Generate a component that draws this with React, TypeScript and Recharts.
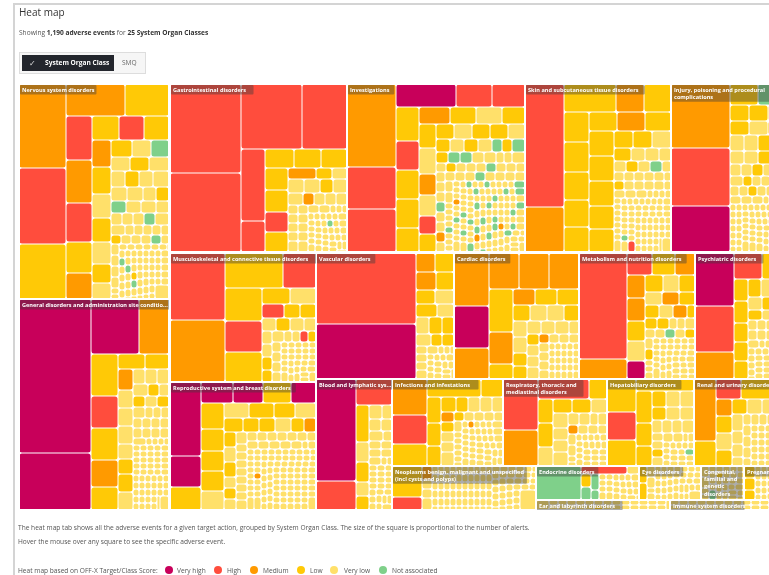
import React from 'react';
import { Treemap } from 'recharts';

// score letters: p very high, r high, o medium, y low, w very low, g not associated
const scoreColors: Record<string, string> = {
  p: '#c8005a',
  r: '#ff4d3d',
  o: '#ff9a00',
  y: '#ffc906',
  w: '#ffe06a',
  g: '#7fd08a',
};

const legendItems = [
  { label: 'Very high', score: 'p', dot: 169, text: 177 },
  { label: 'High', score: 'r', dot: 218, text: 227 },
  { label: 'Medium', score: 'o', dot: 254, text: 263 },
  { label: 'Low', score: 'y', dot: 301, text: 310 },
  { label: 'Very low', score: 'w', dot: 334, text: 344 },
  { label: 'Not associated', score: 'g', dot: 383, text: 392 },
];

// Cell sizes (area of each square, tiny square = 1).
// *Cuts = how many cells go in each strip, the rest of the cells fill what is left.
const nervousValues = [87,79,57,42,31,26,25,23,18,15,14,13,13,11,11,10,10,9,8,7,8,7,7,6,6,6,5,5,5,5,5,5,4,4,4,4,4,4,3,3,3,3,3,3,
  2,2,2,2,2,2,2,2,2,2,2,2,2,2,2,
  1,1,1,1,1,1,1,1,1,1,1,1,1,1,1,1,1,1,1,1,1,1,1,1,1,1,1,1,1,1,1,1,1,1,1,1,1,1,1,1,1,1,1,1,1,1,1,1,1,1,1,1,1,1,1,1,1,1,1,1,1,1];
const nervousScores = 'oryoyroryoyryoywywyw' + 'ywgwyw' + 'wywwww' + 'wygwww' + 'wwwgwww' + 'wwwwywwwgwwwwww' + 'wwwwwwwwwgwwwwwwwwwwwwwgwwwwwwwwwwwygwww';
const nervousCuts = [3, 2, 5, 3, 7];

const generalValues = [245,91,59,37,25,19,19,16,14,9,8,7,6,6,6,5,5,6,5,4,4,4,4,3,3,3,3,3,3,
  2,2,2,2,2,2,2,2,2,2,2,2,
  1,1,1,1,1,1,1,1,1,1,1,1,1,1,1,1,1,1,1,1,1,1,1,1,1,1,1,1,1,1,1,1,1,1,1,1,1,1,1,1,1,1,1,1,1,1,1,1,1,1,1,1,1,1,1,1,1];
const generalScores = 'pppo' + 'yryoy' + 'yy' + 'owwwwyyw' + 'wwwwywywyw';
const generalCuts = [2, 2, 5, 2, 8];

const gastroValues = [142,126,89,65,39,17,12,11,11,11,11,10,10,7,4,4,5,5,4,4,4,3,3,3,3,
  2,2,2,2,2,2,2,2,2,2,2,2,
  1,1,1,1,1,1,1,1,1,1,1,1,1,1,1,1,1,1,1,1,1,1,1,1,1,1,1,1,1,1,1,1,1,1,1,1,1,1];
const gastroScores = 'rrrrrr' + 'yyy' + 'yyry' + 'oyw' + 'wwywwowww' + 'wwwwwwwwwwww' + 'wwwwwwwwwwwwwwwwgwww';
const gastroCuts = [2, 2, 2, 3, 4, 3];

const investValues = [90,46,46,30,18,17,18,15,15,15,13,12,10,10,9,9,10,8,8,7,7,6,6,6,6,6,
  4,4,4,4,3,3,3,3,3,3,3,3,
  2,2,2,2,2,2,2,2,2,2,2,2,2,2,2,2,2,2,2,2,2,2,2,2,2,2,2,2,2,2,
  1,1,1,1,1,1,1,1,1,1,1,1,1,1,1,1,1,1,1,1,1,1,1,1,1,1,1,1,1,1,1,1,1,1,1,1,1,1,1,1,
  1,1,1,1,1,1,1,1,1,1,1,1,1,1,1,1,1,1,1,1,1,1,1,1,1,1,1,1,1,1,1,1,1,1,1,1,1,1,1,1,
  1,1,1,1,1,1,1,1,1,1,1,1,1,1,1,1,1,1,1,1,1,1,1,1,1,1,1,1,1,1,1,1,1,1,1,1,1,1,1,1,1,1,1];
const investScores = 'orrprr' + 'yryyy' + 'oywy' + 'ywowry' + 'ywyyw' + 'ywywgygyggww'
  + 'wwwwywwwgwwwwwwgwwowwwwgwwwwww'
  + 'wwwwgwwwgwwwowwgwwwwwgwwgwwwwgwwwwgwwgwwwgwwwwgwgwwwwgwwwgwwwgwwwwgwwgowwwgwwwwgwgwwwgwwwwgwwwgwwgwwwwgwwwowgwwwwgw';
const investCuts = [3, 3, 5, 4, 6, 5];

const skinValues = [107,39,32,17,17,17,17,16,15,14,12,12,11,14,14,14,13,12,7,7,7,5,4,4,4,3,3,3,3,
  2,2,2,2,2,2,2,2,2,2,2,2,2,2,2,2,
  1,1,1,1,1,1,1,1,1,1,1,1,1,1,1,1,1,1,1,1,1,1,1,1,1,1,1,1,1,1,1,1,1,1,1,1,1,1,1,1,1,1,1,1,1,1,1,1,1,1,1,1,1,1,1,1,1,1,1,1,1,1,1,1,1,1,1,1,1,1,1,1];
const skinScores = 'ro' + 'yoy' + 'yyyyy' + 'yoy' + 'yyyyy' + 'yyw' + 'ywwwwywg' + 'wwwwwwwywwwwwwww' + 'wwwwwwwwwwwwwwwwwwwwwwwwwgwwwwwwwwwwwwr';
const skinCuts = [2, 3, 5, 3, 5, 3];

const injuryValues = [84,77,61,13,13,7,7,6,6,6,6,5,5,5,5,4,4,4,4,3,3,3,3,3,3,
  2,2,2,2,2,2,2,2,2,2,2,2,2,2,
  1,1,1,1,1,1,1,1,1,1,1,1,1,1,1,1,1,1,1,1,1,1,1,1,1,1,1,1,1,1,1,1,1,1,1,1,1,1,1,1,1,1,1,1,1,1,1,1,1,1,1,1,1,1,1,1,1,1,1,1,1,1,1,1,1];
const injuryScores = 'orp' + 'yg' + 'yywywywwywwwywwwyw' + 'wwywwwwwwywwww';
const injuryCuts = [3, 2];

const musculoValues = [82,75,45,26,27,25,25,10,9,7,5,5,4,4,4,4,3,3,3,3,3,
  2,2,2,2,2,2,2,2,
  1,1,1,1,1,1,1,1,1,1,1,1,1,1,1,1,1,1,1,1,1,1,1,1,1,1,1,1,1,1,1];
const musculoScores = 'ro' + 'yr' + 'yry' + 'yw' + 'ryywywwwwyy' + 'wwwrywww';
const musculoCuts = [2, 2, 3, 2];

const reprodValues = [50,21,16,15,14,13,12,13,11,10,10,10,8,8,7,7,6,5,5,5,4,4,4,4,4,3,3,3,3,
  2,2,2,2,2,2,2,2,2,2,2,2,2,2,2,2,2,2,2,2,
  1,1,1,1,1,1,1,1,1,1,1,1,1,1,1,1,1,1,1,1,1,1,1,1,1,1,1,1,1,1,1,1,1,1,1,1,1,1,1,1,1,1,1,1,1,1,1,
  1,1,1,1,1,1,1,1,1,1,1,1,1,1,1,1,1,1,1,1,1,1,1,1,1,1,1,1,1,1,1,1,1,1,1,1,1,1,1,1,1,1,1,1,1,1,1,1,1,1];
const reprodScores = 'ppy' + 'ppyp' + 'yyyyw' + 'wyyw' + 'yyywyoywywyww' + 'wwwwwwwwwwwwwwwwwwww' + 'wwwwwwwwwwwwwwwo';
const reprodCuts = [3, 4, 5, 4];

const vascularValues = [159,124,8,8,8,7,6,6,6,5,5,5,4,4,3,3,2,2,2,2,2,
  1,1,1,1,1,1,1,1,1,1,1,1,1,1,1,1,1,1];
const vascularScores = 'rp' + 'oyoyywywwyywyy';
const vascularCuts = [2];

const cardiacValues = [42,33,25,24,24,24,23,17,8,8,8,8,6,6,6,5,5,5,4,4,4,4,4,3,3,3,3,3,
  2,2,2,2,2,2,2,2,
  1,1,1,1,1,1,1,1,1,1,1,1,1,1,1,1,1,1,1,1,1,1,1,1,1];
const cardiacScores = 'opo' + 'ooo' + 'yoy' + 'oyy' + 'ywwywwyywwwwyww' + 'wowwwwww';
const cardiacCuts = [3, 3, 3, 3];

const metabValues = [113,21,12,11,10,9,9,8,8,7,7,6,6,5,5,5,4,4,4,3,3,3,
  2,2,2,2,2,2,2,2,2,2,
  1,1,1,1,1,1,1,1,1,1,1,1,1,1,1,1,1,1,1,1,1,1,1,1,1,1,1,1,1,1,1,1,1,1,1,1,1,1,1,1,1,1];
const metabScores = 'ro' + 'ryo' + 'ooywp' + 'ywywoyywoyyy' + 'wwwwwgwywy';
const metabCuts = [2, 3, 5];

const psychValues = [46,40,24,16,14,7,7,6,6,6,5,5,5,4,4,3,3,3,
  2,2,2,2,2,2,2,2,2,2,
  1,1,1,1,1,1,1,1,1,1,1,1,1,1,1,1,1,1,1,1,1,1,1,1,1,1,1,1,1,1,1];
const psychScores = 'pro' + 'ry' + 'yyyyy' + 'ywywywyw';
const psychCuts = [3, 2, 5];

const bloodValues = [91,26,21,11,6,6,4,4,4,3,3,3,3,
  2,2,2,2,2,2,
  1,1,1,1,1,1,1,1,1,1,1,1,1,1,1,1,1,1,1,1,1,1,1,1];
const bloodScores = 'pr' + 'r' + 'ywywy' + 'wwwww';
const bloodCuts = [2, 1, 5];

const infectValues = [28,22,17,22,9,8,7,6,5,4,4,4,4,3,3,3,3,3,
  2,2,2,2,2,2,
  1,1,1,1,1,1,1,1,1,1,1,1,1,1,1,1,1,1,1,1,1,1,1,1,1,1,1,1,1,1,1,1,1,1,1,1,1,1,1,1,1,1,1,1,1,1,1];
const infectScores = 'ory' + 'yy' + 'yyy' + 'yywwwoywww' + 'ywwwww' + 'wwwwwwwowww';
const infectCuts = [3, 2, 3];

const respValues = [40,28,23,8,8,8,6,6,6,5,5,4,4,4,3,3,
  2,2,2,2,2,2,2,2,
  1,1,1,1,1,1,1,1,1,1,1,1,1,1,1,1,1,1,1,1,1,1,1,1];
const respScores = 'ro' + 'ry' + 'yyw' + 'yywwwwwww' + 'wwowwwww';
const respCuts = [2, 2, 3];

const hepatValues = [21,18,17,15,11,8,7,5,5,5,4,4,4,3,3,3,3,
  2,2,2,2,2,2,
  1,1,1,1,1,1,1,1,1,1,1,1,1,1,1,1,1,1,1,1];
const hepatScores = 'yry' + 'y' + 'yyy' + 'ywwywwwwww' + 'wwywww' + 'wwwwwwwwwwwwwwgwwwwo';
const hepatCuts = [3, 1, 3];

const renalValues = [30,12,11,20,6,6,6,5,5,5,4,4,4,3,3,3,
  2,2,2,2,2,2,2,2,
  1,1,1,1,1,1,1,1,1,1,1,1,1,1,1,1,1,1,1,1,1,1,1,1,1,1,1,1,1,1,1,1];
const renalScores = 'oy' + 'ry' + 'oywyywwwwwww';
const renalCuts = [2, 2];

const neoplasmValues = [20,8,3,2,2,2,
  1,1,1,1,1,1,1,1,1,1,1,1,1,1,1,1,1,1,1,1,1,1,1,1,1,1,1,1,1,1,1,1,1,1,1,1,1,1,1,1,1,1,1,1,1,1,
  1,1,1,1,1,1,1,1,1,1,1,1,1,1,1,1,1,1,1,1,1,1,1,1,1,1,1,1,1,1,1,1,1,1,1,1,1,1,1,1,1,1,1,1,1,1,1,1,1,1,1];
const neoplasmScores = 'yr' + 'owww';
const neoplasmCuts = [2];

const endocrineValues = [35,8,2,3,3,3,2,1,1,1,1,1,1,1,1,1,1,1,1,1,1,1,1,1,1,1,1,1,1,1,1];
const endocrineScores = 'g' + 'rw' + 'yggg';
const endocrineCuts = [1, 2];

const eyeValues = [3,3,2,2,1,1,1,1,1,1,1,1,1,1,1,1,1,1,1,1,1,1,1,1,1,1,1,1,1,1,1,1,1,1,1,1,1,1,1,1,1,1];
const eyeScores = 'yy';
const eyeCuts = [2];

const congenitalValues = [2,2,1,1,1,1,1,1,1,1,1,1,1,1,1,1,1,1,1,1,1,1,1,1,1,1,1,1,1,1,1];
const congenitalScores = 'wwwwwwwwgwwwwy';

const pregnancyValues = [3,3,3,1,1,1,1,1,1,1,1,1,1,1,1,1,1,1,1,1,1,1,1,1,1,1,1];
const pregnancyScores = 'yyy';

const earValues = [3,1,1,1,1,1,1,1,1,1,1,1,1,1,1,1,1,1,1,1,1,1,1,1,1,1,1,1];
const earScores = 'wwwwwwwwwwwwy';

const immuneValues = [1,1,1,1,1,1,1,1,1,1,1,1,1,1,1,1,1,1,1,1,1,1,1,1,1,1];

const makeGroup = (name: string, values: number[], scores: string, cuts: number[] = []) => {
  const cells = values.map((value, i) => ({ name: `${name} ${i + 1}`, value, score: scores[i] || 'w' }));
  const strips: any[][] = [];
  let start = 0;
  cuts.forEach((count) => {
    strips.push(cells.slice(start, start + count));
    start += count;
  });
  strips.push(cells.slice(start));
  return { name, value: values.reduce((a, b) => a + b, 0), strips };
};

const panels = [
  {
    left: 19, top: 84, width: 150, height: 426,
    groups: [
      makeGroup('Nervous system disorders', nervousValues, nervousScores, nervousCuts),
      makeGroup('General disorders and administration site conditio...', generalValues, generalScores, generalCuts),
    ],
  },
  {
    left: 170, top: 84, width: 616, height: 168,
    groups: [
      makeGroup('Gastrointestinal disorders', gastroValues, gastroScores, gastroCuts),
      makeGroup('Investigations', investValues, investScores, investCuts),
      makeGroup('Skin and subcutaneous tissue disorders', skinValues, skinScores, skinCuts),
      makeGroup('Injury, poisoning and procedural\ncomplications', injuryValues, injuryScores, injuryCuts),
    ],
  },
  {
    left: 170, top: 253, width: 146, height: 257,
    groups: [
      makeGroup('Musculoskeletal and connective tissue disorders', musculoValues, musculoScores, musculoCuts),
      makeGroup('Reproductive system and breast disorders', reprodValues, reprodScores, reprodCuts),
    ],
  },
  {
    left: 316, top: 253, width: 470, height: 126,
    groups: [
      makeGroup('Vascular disorders', vascularValues, vascularScores, vascularCuts),
      makeGroup('Cardiac disorders', cardiacValues, cardiacScores, cardiacCuts),
      makeGroup('Metabolism and nutrition disorders', metabValues, metabScores, metabCuts),
      makeGroup('Psychiatric disorders', psychValues, psychScores, psychCuts),
    ],
  },
  {
    left: 316, top: 379, width: 76, height: 131,
    groups: [makeGroup('Blood and lymphatic sys...', bloodValues, bloodScores, bloodCuts)],
  },
  {
    left: 392, top: 379, width: 394, height: 87,
    groups: [
      makeGroup('Infections and infestations', infectValues, infectScores, infectCuts),
      makeGroup('Respiratory, thoracic and\nmediastinal disorders', respValues, respScores, respCuts),
      makeGroup('Hepatobiliary disorders', hepatValues, hepatScores, hepatCuts),
      makeGroup('Renal and urinary disorders', renalValues, renalScores, renalCuts),
    ],
  },
  {
    left: 392, top: 466, width: 144, height: 44,
    groups: [makeGroup('Neoplasms benign, malignant and unspecified\n(incl cysts and polyps)', neoplasmValues, neoplasmScores, neoplasmCuts)],
  },
  {
    left: 536, top: 466, width: 250, height: 34,
    groups: [
      makeGroup('Endocrine disorders', endocrineValues, endocrineScores, endocrineCuts),
      makeGroup('Eye disorders', eyeValues, eyeScores, eyeCuts),
      makeGroup('Congenital,\nfamilial and\ngenetic\ndisorders', congenitalValues, congenitalScores),
      makeGroup('Pregnancy, puerperium and perinatal conditions', pregnancyValues, pregnancyScores),
    ],
  },
  {
    left: 536, top: 500, width: 250, height: 10,
    groups: [
      makeGroup('Ear and labyrinth disorders', earValues, earScores),
      makeGroup('Immune system disorders', immuneValues, ''),
    ],
  },
];

const FONT = '"Open Sans", sans-serif';

const LeafCell = (props: any) => {
  const { x, y, width, height, depth, score } = props;
  if (depth !== 1 || width < 1 || height < 1) return null;
  const w = Math.max(width - 1, 0.5);
  const h = Math.max(height - 1, 0.5);
  return <rect x={x + 0.5} y={y + 0.5} width={w} height={h} rx={Math.min(2.5, w / 2, h / 2)} fill={scoreColors[score]} />;
};

// Columns and rows take turns, the way the original heat map fills a class
const placeStrips = (strips: any[][], width: number, height: number) => {
  const sums = strips.map((cells) => cells.reduce((a, c) => a + c.value, 0));
  let remaining = sums.reduce((a, b) => a + b, 0);
  const rect = { left: 0, top: 0, width, height };
  return strips.map((cells, i) => {
    const box = { ...rect };
    if (i < strips.length - 1) {
      if (i % 2 === 0) {
        box.width = Math.round((rect.width * sums[i]) / remaining);
        rect.left += box.width;
        rect.width -= box.width;
      } else {
        box.height = Math.round((rect.height * sums[i]) / remaining);
        rect.top += box.height;
        rect.height -= box.height;
      }
    }
    remaining -= sums[i];
    return { cells, box };
  });
};

const GroupCell = (props: any) => {
  const { x, y, width, height, depth, name, strips } = props;
  if (depth !== 1) return null;
  const lines = String(name).split('\n');
  const longest = Math.max(...lines.map((l) => l.length));
  return (
    <g>
      <foreignObject x={x} y={y} width={width} height={height}>
        <div style={{ position: 'relative', width, height }}>
          {placeStrips(strips, width, height).map(({ cells, box }, i) => (
            <div key={i} style={{ position: 'absolute', ...box }}>
              <Treemap width={box.width} height={box.height} data={cells} dataKey="value" aspectRatio={1} isAnimationActive={false} content={<LeafCell />} />
            </div>
          ))}
        </div>
      </foreignObject>
      <rect x={x} y={y} width={width} height={height} fill="none" stroke="#fff" strokeWidth={2} />
      <rect x={x + 1} y={y + 1} width={longest * 3.02 + 4} height={lines.length * 7.4 + 2} fill="#3c3c3c" fillOpacity={0.42} rx={1} />
      {lines.map((line, i) => (
        <text key={i} x={x + 3} y={y + 7.5 + i * 7.4} fontSize={5.6} fontWeight={700} fontFamily={FONT} fill="#fff">
          {line}
        </text>
      ))}
    </g>
  );
};

// fontSize 0 so short inline svgs do not get pushed down by the line box
const HeatPanel = ({ left, top, width, height, groups }: any) => (
  <div style={{ position: 'absolute', left, top, width, height, fontSize: 0, lineHeight: 0 }}>
    <Treemap width={width} height={height} data={groups} dataKey="value" aspectRatio={1.618} isAnimationActive={false} content={<GroupCell />} />
  </div>
);

const Label = ({ left, top, size = 6.6, color = '#555', children, style }: any) => (
  <div style={{ position: 'absolute', left, top, fontSize: size, lineHeight: '10px', color, whiteSpace: 'nowrap', ...style }}>{children}</div>
);

export default function App() {
  return (
    <div style={{ position: 'fixed', left: 0, top: 0, width: 769, height: 575, overflow: 'hidden', background: '#fff', fontFamily: FONT, filter: 'blur(0.5px)' }}>
      {/* page frame */}
      <div style={{ position: 'absolute', left: 13, top: 3, width: 756, height: 572, borderLeft: '2px solid #d4d4d4', borderTop: '2px solid #d4d4d4' }} />

      <Label left={19} top={7} size={10} color="#333">Heat map</Label>
      <Label left={19} top={28}>
        Showing <b style={{ color: '#333' }}>1,190 adverse events</b> for <b style={{ color: '#333' }}>25 System Organ Classes</b>
      </Label>

      {/* toggle */}
      <div style={{ position: 'absolute', left: 19, top: 52, width: 125, height: 20, background: '#f6f6f6', border: '1px solid #ddd' }} />
      <div style={{ position: 'absolute', left: 22, top: 55, width: 92, height: 16, background: '#23262d' }} />
      <Label left={29} top={58} size={8} color="#ddd">✓</Label>
      <Label left={45} top={58} color="#fff" style={{ fontWeight: 700 }}>System Organ Class</Label>
      <Label left={122} top={58} color="#666">SMQ</Label>

      {panels.map((p, i) => <HeatPanel key={i} {...p} />)}

      <Label left={18} top={523}>
        The heat map tab shows all the adverse events for a given target action, grouped by System Organ Class. The size of the square is proportional to the number of alerts.
      </Label>
      <Label left={18} top={537}>Hover the mouse over any square to see the specific adverse event.</Label>

      <Label left={18} top={566}>Heat map based on OFF-X Target/Class Score:</Label>
      {legendItems.map((item) => (
        <React.Fragment key={item.label}>
          <div style={{ position: 'absolute', left: item.dot - 4, top: 566, width: 8, height: 8, borderRadius: 4, background: scoreColors[item.score] }} />
          <Label left={item.text} top={566}>{item.label}</Label>
        </React.Fragment>
      ))}
    </div>
  );
}
